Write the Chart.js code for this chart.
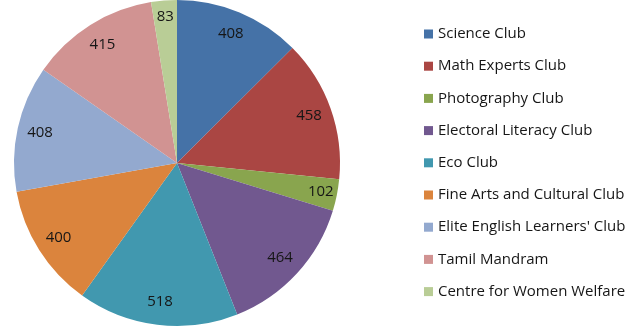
<!DOCTYPE html>
<html>
<head>
<meta charset="utf-8">
<script src="https://cdn.jsdelivr.net/npm/chart.js@4"></script>
<style>
    html, body { margin: 0; padding: 0; background: #fff; }
    #wrap { width: 638px; height: 329px; position: relative; }
</style>
</head>
<body>
<div id="wrap"><canvas id="chartClubs"></canvas></div>
<script>
var clubs = ['Science Club', 'Math Experts Club', 'Photography Club', 'Electoral Literacy Club', 'Eco Club',
    'Fine Arts and Cultural Club', "Elite English Learners' Club", 'Tamil Mandram', 'Centre for Women Welfare'];
var members = [408, 458, 102, 464, 518, 400, 408, 415, 83];
var clubColors = ['#4572A7', '#AA4643', '#89A54E', '#71588F', '#4198AF', '#DB843D', '#93A9CF', '#D19392', '#B9CD96'];

var fontFamily = "'Open Sans', 'Noto Sans', sans-serif";

// value labels inside each slice, near the outer edge
var sliceLabels = {
    id: 'sliceLabels',
    afterDatasetsDraw: function(chart) {
        var ctx = chart.ctx;
        var meta = chart.getDatasetMeta(0);
        ctx.save();
        ctx.font = '15px ' + fontFamily;
        ctx.fillStyle = '#161616';
        ctx.textAlign = 'center';
        ctx.textBaseline = 'middle';
        meta.data.forEach(function(arc, i) {
            var p = arc.getProps(['x', 'y', 'startAngle', 'endAngle', 'outerRadius'], true);
            var mid = (p.startAngle + p.endAngle) / 2;
            // thin slices push the label a bit further out
            var r = p.outerRadius * ((p.endAngle - p.startAngle) < 0.3 ? 0.9 : 0.86);
            ctx.fillText(chart.data.datasets[0].data[i], p.x + Math.cos(mid) * r, p.y + Math.sin(mid) * r);
        });
        ctx.restore();
    }
};

// legend column on the right
var sideLegend = {
    id: 'sideLegend',
    afterDraw: function(chart) {
        var ctx = chart.ctx;
        var items = Chart.overrides.pie.plugins.legend.labels.generateLabels(chart);
        ctx.save();
        ctx.font = '15px ' + fontFamily;
        ctx.textBaseline = 'middle';
        items.forEach(function(item, i) {
            var y = 34 + i * 32.2;
            ctx.fillStyle = item.fillStyle;
            ctx.fillRect(424, y - 4.5, 9, 9);
            ctx.fillStyle = '#161616';
            ctx.fillText(item.text, 438, y);
        });
        ctx.restore();
    }
};

var ctx = document.getElementById('chartClubs').getContext('2d');
var chart = new Chart(ctx, {
    type: 'pie',
    data: {
        labels: clubs,
        datasets: [{
            data: members,
            backgroundColor: clubColors,
            borderWidth: 0
        }]
    },
    options: {
        responsive: true,
        maintainAspectRatio: false,
        animation: false,
        layout: { padding: { left: 0, right: 284, top: 0, bottom: 3 } },
        plugins: {
            legend: { display: false },
            tooltip: { enabled: false }
        }
    },
    plugins: [sliceLabels, sideLegend]
});
</script>
</body>
</html>
